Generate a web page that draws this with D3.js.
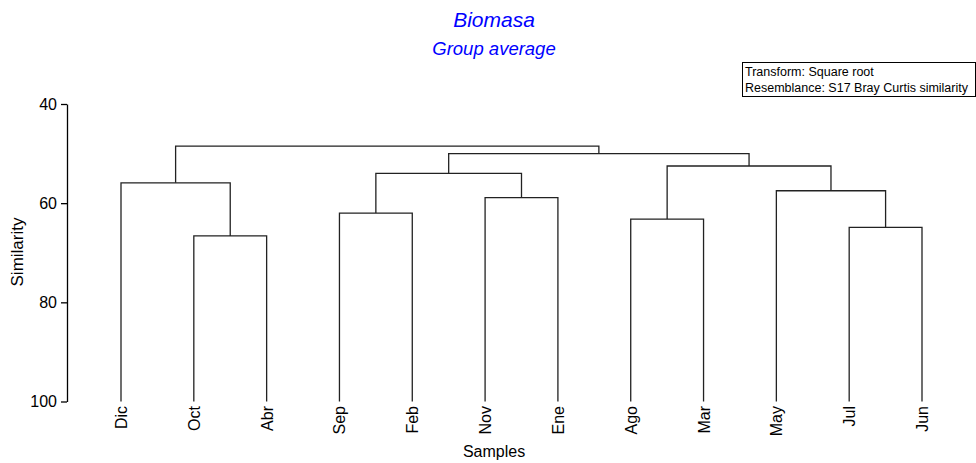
<!DOCTYPE html>
<html><head><meta charset="utf-8">
<script src="https://cdn.jsdelivr.net/npm/d3@7"></script>
<style>
body{margin:0;background:#fff;}
text{font-family:"Liberation Sans",Arial,sans-serif;}
</style></head>
<body><svg id="c" width="976" height="463"></svg>
<script>
const leaves = ["Dic","Oct","Abr","Sep","Feb","Nov","Ene","Ago","Mar","May","Jul","Jun"];
// merges: [left child, right child, similarity]; "mK" refers to merge K
const mergeLeft  = ["Oct","Dic","Sep","Nov","m2","Ago","Jul","May","m5","m4","m1"];
const mergeRight = ["Abr","m0","Feb","Ene","m3","Mar","Jun","m6","m7","m8","m9"];
const mergeSim   = [66.6, 55.9, 62.0, 58.9, 54.0, 63.2, 64.9, 57.5, 52.5, 50.0, 48.5];
const yTicks = [40,60,80,100];
const title = "Biomasa", subtitle = "Group average";
const legendLines = ["Transform: Square root","Resemblance: S17 Bray Curtis similarity"];

const svg = d3.select("#c");
const x = d3.scalePoint().domain(leaves).range([121, 922]);
const y = d3.scaleLinear().domain([40,100]).range([104, 401.5]);

// titles
svg.append("text").attr("x",494).attr("y",27).attr("text-anchor","middle")
  .attr("font-size",21).attr("font-style","italic").attr("fill","#0000ff").text(title);
svg.append("text").attr("x",494).attr("y",55).attr("text-anchor","middle")
  .attr("font-size",18.5).attr("font-style","italic").attr("fill","#0000ff").text(subtitle);

// legend box
svg.append("rect").attr("x",742.5).attr("y",62.5).attr("width",233).attr("height",34)
  .attr("fill","#fff").attr("stroke","#000").attr("stroke-width",1);
legendLines.forEach((t,i)=>{
  svg.append("text").attr("x",745).attr("y",76+i*15.5).attr("font-size",12.5).attr("fill","#000").text(t);
});

// y axis
const ya = svg.append("g").attr("transform","translate(67,0)")
  .call(d3.axisLeft(y).tickValues(yTicks).tickSize(6).tickSizeOuter(0).tickPadding(4));
ya.select(".domain").attr("stroke","#000").attr("stroke-width",1.3);
ya.selectAll(".tick line").attr("stroke","#000").attr("stroke-width",1.3);
ya.selectAll(".tick text").attr("font-size",16).attr("font-family","Liberation Sans, Arial, sans-serif").attr("fill","#000");

svg.append("text").attr("transform","translate(23,252) rotate(-90)").attr("text-anchor","middle")
  .attr("font-size",17).attr("fill","#000").text("Similarity");

// x labels
svg.append("g").selectAll("text").data(leaves).join("text")
  .attr("transform",d=>`translate(${x(d)+6},406) rotate(-90)`)
  .attr("text-anchor","end").attr("font-size",16).attr("fill","#000").text(d=>d);
svg.append("text").attr("x",494).attr("y",457).attr("text-anchor","middle")
  .attr("font-size",16).attr("fill","#000").text("Samples");

// dendrogram
const pos = {};
leaves.forEach(l=>pos[l]={x:x(l), s:100});
const g = svg.append("g").attr("fill","none").attr("stroke","#222").attr("stroke-width",1.3);
mergeSim.forEach((s,i)=>{
  const a = pos[mergeLeft[i]], b = pos[mergeRight[i]];
  const yy = y(s);
  g.append("path").attr("d",`M${a.x},${y(a.s)}V${yy}H${b.x}V${y(b.s)}`);
  pos["m"+i] = {x:(a.x+b.x)/2, s:s};
});
</script></body></html>
